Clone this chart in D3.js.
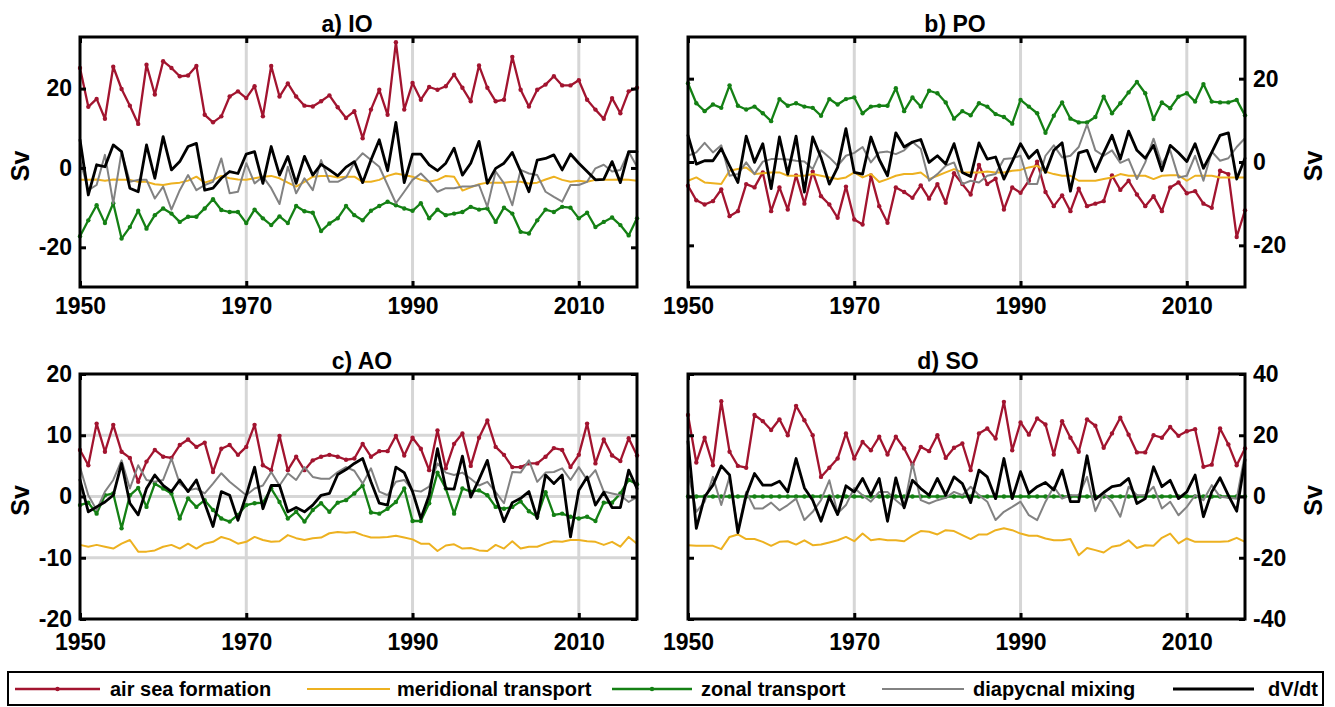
<!DOCTYPE html>
<meta charset="utf-8">
<head>
    <title>Volume budget by basin</title>
    <script src="https://cdn.jsdelivr.net/npm/d3@7"></script>
</head>

<style>
    body { margin: 0; background: #fff; }
    text { font-family: "Liberation Sans", Arial, sans-serif; font-weight: bold; fill: #000; }
    .frame { fill: none; stroke: #000; stroke-width: 3px; }
    .grid { stroke: #d6d6d6; stroke-width: 3px; }
    .series { fill: none; stroke-linejoin: round; stroke-linecap: round; }
    .tick line { stroke: #000; stroke-width: 3px; }
</style>

<svg></svg>

<script>
    var years = [1950, 1951, 1952, 1953, 1954, 1955, 1956, 1957, 1958, 1959,
        1960, 1961, 1962, 1963, 1964, 1965, 1966, 1967, 1968, 1969,
        1970, 1971, 1972, 1973, 1974, 1975, 1976, 1977, 1978, 1979,
        1980, 1981, 1982, 1983, 1984, 1985, 1986, 1987, 1988, 1989,
        1990, 1991, 1992, 1993, 1994, 1995, 1996, 1997, 1998, 1999,
        2000, 2001, 2002, 2003, 2004, 2005, 2006, 2007, 2008, 2009,
        2010, 2011, 2012, 2013, 2014, 2015, 2016, 2017];
    var xTickYears = [1950, 1970, 1990, 2010];
    var gridYears = [1970, 1990, 2010];

    var seriesNames = ['air sea formation', 'meridional transport', 'zonal transport', 'diapycnal mixing', 'dV/dt'];

    // a) Indian Ocean
    var ioAir = [25.2, 15.4, 17.4, 12.4, 25.5, 19.9, 15.7, 11.1, 26, 18.5,
        26.9, 25.2, 23.1, 23.3, 25.7, 13.4, 11.5, 13, 18, 19.3,
        17.6, 20.6, 13, 25.7, 18, 21.3, 18, 15.7, 15.5, 16.8,
        18.3, 15.3, 12.6, 14.3, 7.5, 14.7, 19.7, 13.4, 31.7, 14.7,
        21.4, 17.2, 20.4, 19.7, 20.6, 23.5, 20.2, 16.8, 25.8, 20.2,
        16.8, 17.2, 28, 19.7, 15.5, 19.7, 21, 23.1, 20.8, 20.8,
        22.1, 17.2, 14.7, 12.4, 17.6, 13.8, 19.3, 20.2];
    var ioMer = [-3.0, -3.0, -2.9, -3.2, -2.9, -3.0, -3.0, -3.5, -3.5, -4.1,
        -4.3, -3.9, -3.7, -3.2, -2.2, -3.7, -3.0, -2.0, -2.6, -2.9,
        -3.0, -2.6, -2.2, -2.0, -2.6, -3.7, -4.7, -3.5, -2.2, -2.0,
        -2.0, -2.4, -2.2, -2.2, -3.5, -3.5, -3.0, -2.0, -1.4, -1.8,
        -2.2, -3.0, -3.5, -3.0, -2.0, -2.2, -5.7, -4.9, -4.1, -3.7,
        -3.7, -3.7, -3.5, -3.5, -3.9, -3.7, -2.9, -2.2, -3.0, -3.5,
        -3.2, -3.5, -3.0, -3.0, -3.0, -2.9, -3.0, -3.2];
    var ioZon = [-17.2, -13.2, -9.4, -13.9, -8.9, -17.8, -14.9, -10.8, -15.3, -11.9,
        -10.2, -11.5, -13.6, -12.3, -12.3, -10.2, -7.9, -10.6, -11.1, -11.1,
        -13.9, -10.5, -12.7, -14.4, -12.2, -13.9, -9.6, -10.9, -11.3, -15.9,
        -14, -12.7, -9.6, -11.9, -13.2, -10.8, -9.6, -8.5, -9.4, -10.2,
        -10.8, -8.9, -12.7, -10.5, -11.9, -11.5, -11.1, -9.8, -10.5, -10.2,
        -13.6, -10, -11.5, -16.1, -16.5, -13.2, -10.5, -11.1, -9.8, -10,
        -12.7, -11.3, -14.9, -13.6, -12.5, -14.4, -17, -12.7];
    var ioDia = [2, -5.6, -4.3, 3.3, -8.9, 4.1, -3.5, -3, -3, -7.7,
        -4.7, -10.5, -5.6, -1.8, -5.6, -4.3, -3.5, 2.4, -6.4, -6,
        1.2, -3.9, -2.2, -5.1, -9.1, 0.3, -6.4, -2.6, -5.6, 2,
        -3.5, -3.5, -2.4, 1.4, 3.7, 2, 0.3, -4.3, -8.9, -6,
        -3, -1.4, -3.5, -6, -5.1, -5.1, -4.7, -4.7, -4.3, -9.8,
        -0.9, -3.9, -9.4, -0.5, -1.4, -1.8, -6, -7.3, -8.5, -4.3,
        -4.3, -3.5, -0.1, 0.8, -0.9, -0.5, 4.1, 0.3];
    var ioDvdt = [7.1, -6.8, 0.8, 0.3, 5.8, 4.1, -5.1, -6, 5.8, -2.6,
        7.9, -0.5, 1.6, 5.4, 6.2, -5.6, -5.1, -2.6, -0.9, -1.4,
        3.5, 4.1, -3.9, 5.4, -1.8, 2.9, -3.9, 2.9, -1.8, 0.9,
        -0.5, -2, 0.2, 1.6, -3.7, 2, 7.1, -0.7, 11.5, -3.7,
        3.5, 3.5, 0.8, -0.7, 1.2, 5, -1.8, 1.2, 6.7, -3.9,
        -0.1, 1.2, 3.9, -0.9, -6, 2, 2.4, 3.3, -0.5, 3.5,
        1.2, -0.9, -3, -2.9, 1.6, -3.7, 4.1, 4.1];

    // b) Pacific Ocean
    var poAir = [-5.7, -9.2, -10.2, -9.4, -6.6, -13, -11.8, -5.3, -6.1, -2.5,
        -11.8, -6.1, -11.4, -3.2, -10, -2.3, -8.2, -10.2, -13.4, -5.9,
        -13.8, -15, -3.2, -10.6, -14.6, -6.1, -7.2, -8.6, -5.6, -8.8,
        -5.3, -9.8, -2.7, -5.3, -7.8, -0.7, -5.3, -4, -11.4, -6.1,
        -7.4, -4.5, 0.1, -7.2, -10.6, -8, -11.8, -6.4, -10.6, -10,
        -9.4, -3.2, -6.7, -4.5, -7.8, -10.6, -8.2, -11.8, -6.1, -4.9,
        -7.5, -7, -10, -11, -2.1, -2.9, -18, -11.6];
    var poMer = [-4.5, -3.7, -4.9, -5.1, -5.3, -2.1, -1.7, -1.3, -2.9, -2.7,
        -2.5, -2.5, -3.3, -3.3, -3.3, -2.9, -3.3, -3.7, -4.1, -3.7,
        -2.5, -3.7, -2.9, -4.8, -4.1, -3.3, -2.9, -2.9, -2.5, -4.1,
        -3.3, -2.5, -1.7, -2.5, -2.5, -2.5, -2.3, -2.5, -2.5, -2.1,
        -1.9, -1.3, -0.9, -2.3, -2.9, -3.3, -3.3, -4.5, -4.5, -4.5,
        -4.1, -3.7, -2.9, -3.3, -3.3, -3.3, -4.1, -3.3, -3.2, -3.2,
        -4.5, -3.3, -3.3, -3.3, -3.7, -3.7, -3.7, -3.7];
    var poZon = [18.9, 14.1, 12.2, 13.8, 13, 18.4, 13.5, 12.6, 13.3, 11.7,
        9.8, 15.1, 13.5, 14.1, 13.3, 13, 11.1, 15.1, 13.8, 15.1,
        15.5, 11.7, 13.3, 13.5, 13.5, 17.7, 12.2, 15.5, 13.3, 17.1,
        16.5, 14.3, 10.4, 12.2, 11.2, 14.1, 13.3, 11.5, 10.8, 9.2,
        14.9, 13.3, 11.7, 7, 11.1, 14.3, 10.4, 9.5, 9.5, 10.8,
        15.7, 11.7, 14.1, 16.7, 19.2, 16.5, 10.3, 14.3, 12.9, 15.7,
        16.5, 14.5, 18.7, 14.5, 14.3, 14.3, 14.9, 11.2];
    var poDia = [1.5, 2.3, 4.6, 2.3, 4, -3.3, -2.9, -0.1, -2.9, 0.1,
        0.7, 0.7, 0.6, 0.3, 0.1, -1.7, 2.8, 1.1, -0.9, 1.5,
        2.2, 3.6, -0.1, 2.3, 2.5, 1.9, 2.8, 4.8, 3.2, -4.5,
        -2.9, -0.9, -0.1, -5.3, -4.5, -4.9, -3.3, -2.9, 0.7, 0.9,
        1.5, -5.3, -5.3, 1.5, 4, 1.1, 1.5, 3.6, 9, 2.8,
        1.5, 2.8, -0.2, 0.7, -4.1, -0.1, 5.6, -0.5, 2.8, -3.7,
        -3.3, 1.5, -4.5, 2.5, 0.3, 0.9, 3.6, 5.7];
    var poDvdt = [6.4, -0.5, 0.3, 0.3, 3.2, -0.9, -4.9, 6.2, -0.1, 4.4,
        -6.4, 6, -2.9, 6.2, -7.2, 6, 1.1, -5.3, -1.3, 8,
        -2.5, -2.9, 6, 0.6, -3.3, 7, 3.6, 4.8, 5.4, -0.1,
        1.5, -0.5, 4.4, -2.5, -3.5, 4.6, 0.7, 1.2, -4.1, 0.1,
        4.4, 0.9, 2.8, -2.5, 2.8, 4.6, -7, 2.2, 2.8, -2.3,
        2.2, 6.4, 0.7, 7.4, 2.8, 0.9, 4, -2.1, 4, 2.2,
        0.1, 4.4, -1.5, 2.3, 6.4, 7, -4.1, 0.9];

    // c) Atlantic Ocean
    var aoAir = [7.6, 5.1, 11.9, 7.3, 11.7, 7.3, 6.3, 2.4, 5.7, 7.6,
        6.5, 6.3, 8.4, 9.3, 8.1, 8.8, 4, 7.8, 8.4, 6.8,
        8.1, 11.7, 5.1, 4.3, 9.9, 4.3, 6.5, 4.3, 5.9, 6.5,
        6.8, 6.5, 6, 6.2, 8.6, 6.5, 7.4, 7.4, 9.9, 6.7,
        9.6, 7.8, 4.3, 10.8, 4.6, 8.6, 10.3, 5, 9.6, 12.4,
        8.1, 6.8, 4.8, 4.8, 5.4, 5.4, 6.5, 7.9, 7.6, 4.8,
        6.8, 11.9, 5.4, 9.3, 6.7, 5.8, 9.5, 6.7];
    var aoMer = [-7.9, -8.2, -7.9, -8.2, -8.5, -7.7, -7.1, -9, -9, -8.8,
        -8.2, -7.9, -8.5, -7.7, -8.5, -7.7, -7.4, -6.6, -7, -7.7,
        -7.4, -6.6, -7.1, -7.4, -7.3, -6.3, -6.8, -7.1, -6.8, -6.7,
        -6, -5.8, -5.9, -5.8, -6.3, -6.7, -6.7, -6.6, -6.4, -6.7,
        -7, -7.7, -7.7, -8.9, -8, -7.8, -8.5, -8.4, -8.8, -8.9,
        -7.9, -8.5, -7.3, -8.5, -8.2, -8.2, -7.7, -7.3, -7.4, -7.1,
        -7.1, -7.3, -7.4, -7.9, -7.4, -8.2, -6.6, -7.7];
    var aoZon = [-1.4, -1, -2.8, 0.2, 0.5, -5.2, 0.2, 1.4, -1.7, 2.1,
        1.3, 0.5, -3.6, -0.3, -1.7, -0.6, -2.2, -3.6, -4.1, -3,
        -1.4, -1.1, -1, 1.3, -0.9, -3.6, -2.5, -4.1, -2.2, -1.1,
        -2.5, -1, -0.6, 0.5, 1.8, -2.6, -2.8, -2, -0.9, 1.3,
        -4, -4, -1.1, 3.9, 1.3, -2.8, 1.3, 0.8, 1, 0.2,
        -1.7, -2, -1.7, -0.8, -2.4, -3.3, 0.7, -3, -2.8, -3.3,
        -3.6, -3.3, -4, -1, -1, 0.5, 2.7, 2];
    var aoDia = [4.8, 0.2, -2.2, 0.8, 2.7, 5.9, 1.3, 5.1, 2.7, 2.4,
        2.7, 6.2, 2.1, 1, 1.3, 0.5, 2.1, 3.8, 2.4, 1.3,
        0.2, 1.3, 1.8, 4, 1.8, 3.8, 2.7, 4.8, 3.2, 2.9,
        2.9, 4, 4.8, 4.2, 2.1, 4.6, 0.8, 0.2, 2.4, 2.7,
        1, 0.8, 1.6, 5.4, 3.9, 3.5, 3.9, 2.9, 1.8, 2.4,
        0.7, -1.1, 4, 3.9, 5.9, 2.4, 3.9, 4, 4.6, 2.7,
        4.8, 2.7, 4.3, 0.8, 0.5, 0.2, -0.9, -0.1];
    var aoDvdt = [2.7, -2.5, -1.7, -0.9, 0.2, 5.4, -1.1, -3, 1.3, 3.5,
        1.8, 0.8, 2.7, 0.8, 2.7, -1.1, -4.9, 0.8, 0.2, -3.9,
        0.2, 4.8, -2, 1.8, 1.8, -2.5, -1.8, -2.5, -1.4, 0.2,
        0.5, 3.6, 4.4, 5.4, 6.2, 2.4, -1.1, -1.4, 4.8, 3.9,
        0.8, -3.6, 0.2, 7.8, 1.3, 1.2, 6.6, -0.1, 2.8, 5.9,
        -0.1, -4.1, -1, -0.3, 0.8, -3.6, 3.5, 2.1, 3.5, -6.6,
        1, 3.2, -1.4, 0.7, -1.8, -1.8, 4.3, 1.3];

    // d) Southern Ocean
    var soAir = [26.6, 11.1, 19.2, 10.2, 31.1, 14.6, 10, 9.4, 26.6, 24.6,
        21.7, 25.2, 20, 29.6, 24.9, 20, 6.4, 9.4, 12.4, 20.6,
        12.4, 17.8, 15.1, 19.5, 13.7, 19.5, 15.7, 10.4, 16.2, 14.8,
        20, 12.6, 15.9, 17.3, 8.6, 20.6, 22.2, 18.9, 30.9, 15.1,
        24.2, 20.2, 25.5, 23.5, 13.7, 24.6, 19.2, 14.6, 25.2, 23.1,
        15.9, 20.6, 25.7, 20.2, 14.4, 14.4, 20, 19.2, 22.7, 19.8,
        21.3, 22, 9.7, 10.4, 22.2, 17, 10.2, 15.7];
    var soMer = [-15.9, -16.1, -16.1, -16.1, -17.2, -13.2, -12.4, -13.9, -13.9, -14.8,
        -16.1, -14.8, -14.6, -15.7, -14.3, -15.9, -15.7, -15, -14.3, -13.2,
        -14.6, -12.1, -14.3, -13.9, -14.3, -14.3, -14.6, -12.8, -11.3, -11.5,
        -12.4, -11, -11.3, -12.6, -13.9, -12.4, -12.4, -11, -10.4, -11,
        -12.1, -12.8, -12.8, -13.7, -14.3, -14.3, -13.9, -19.2, -16.8, -17.5,
        -18.3, -16.4, -15.9, -14.3, -16.8, -15.9, -16.1, -13.5, -12.1, -15.3,
        -13.7, -14.8, -14.8, -14.8, -14.8, -14.6, -13.5, -14.8];
    var soZon = [0, 0, 0, 0, 0, 0, 0, 0, 0, 0,
        0, 0, 0, 0, 0, 0, 0, 0, 0, 0,
        0, 0, 0, 0, 0, 0, 0, 0, 0, 0,
        0, 0, 0, 0, 0, 0, 0, 0, 0, 0,
        0, 0, 0, 0, 0, 0, 0, 0, 0, 0,
        0, 0, 0, 0, 0, 0, 0, 0, 0, 0,
        0, 0, 0, 0, 0, 0, 0, 0];
    var soDia = [8.1, -5, -1.7, 6.4, -2.8, 6.4, -11, 1.5, -3.9, -3.9,
        -2, -4.5, -2.8, -0.7, -7.7, -5, -1.2, 5.3, -5.5, -2.8,
        2.8, 0.4, -1.7, 1.5, 1.5, -1.2, -3.4, 10.8, -1.2, -2.3,
        -1.2, -0.4, 1.5, 0.4, 3.2, 0.4, -1.7, -7.7, -5, -3.4,
        -1.7, -6.1, -7.7, -1.7, 3.2, -0.7, 0.4, 0.4, 6.4, -4.8,
        1, -1.7, -6.6, 3.2, 0.4, 0.4, 3.2, -3.9, -1.7, -6.1,
        -3.4, 0.4, -1.2, 3.7, -0.1, -0.4, -0.7, 14];
    var soDvdt = [18, -10.4, -0.1, 3.7, 10, 7, -11.8, 0.4, 7.5, 3.7,
        3.7, 5, 1.5, 12.4, 2.8, -1.2, -8.1, -0.1, -5.9, 3.5,
        1.5, 5.9, 0.4, 5.9, -8.1, 6.1, -3.7, 5.3, 2.6, 0.4,
        5.9, 0.4, 6.4, 4.2, -2, 8.6, 6.4, -0.7, 12.4, -0.7,
        8.1, 1, 3.2, 4.6, 2.1, 8.6, -1.7, -1.7, 13.3, -0.9,
        1.3, 3.2, 3.7, 5.9, -2.3, -0.7, 9.7, 3.2, 5.3, -0.7,
        1.5, 7, -6.6, 1.5, 6.1, 0.4, -4.8, 12];

    // styles, one per series
    var seriesColors = ['#a2142f', '#edb120', '#148014', '#828282', '#000000'];
    var seriesWidths = [2.3, 2, 2.3, 2, 2.8];
    var seriesDots = [true, false, true, false, false];

    var panels = [
        {title: 'a) IO', titleX: 347, x0: 80, x1: 637, y0: 37, y1: 287, dom: [-30, 33],
            ticks: [-20, 0, 20], side: 'left', hgrid: [], xPad: 11,
            data: [ioAir, ioMer, ioZon, ioDia, ioDvdt]},
        {title: 'b) PO', titleX: 955, x0: 688, x1: 1245, y0: 37, y1: 287, dom: [-30, 30],
            ticks: [-20, 0, 20], side: 'right', hgrid: [], xPad: 11,
            data: [poAir, poMer, poZon, poDia, poDvdt]},
        {title: 'c) AO', titleX: 362, x0: 80, x1: 637, y0: 374, y1: 619, dom: [-20, 20],
            ticks: [-20, -10, 0, 10, 20], side: 'left', hgrid: [-10, 0, 10], xPad: 15,
            data: [aoAir, aoMer, aoZon, aoDia, aoDvdt]},
        {title: 'd) SO', titleX: 948, x0: 688, x1: 1245, y0: 374, y1: 619, dom: [-40, 40],
            ticks: [-40, -20, 0, 20, 40], side: 'right', hgrid: [], xPad: 15,
            data: [soAir, soMer, soZon, soDia, soDvdt]}
    ];

    var svg = d3.select('svg').attr('width', 1335).attr('height', 707);

    function styleAxis(sel) {
        sel.attr('font-family', null).attr('font-size', null);
        sel.select('.domain').remove();
        sel.selectAll('text').style('font-size', '23px');
    }

    function drawPanel(p) {
        var x = d3.scaleLinear().domain([1950, 2017]).range([p.x0, p.x1]);
        var y = d3.scaleLinear().domain(p.dom).range([p.y1, p.y0]);
        var g = svg.append('g');

        g.selectAll('.vgrid').data(gridYears).enter().append('line')
            .attr('class', 'grid')
            .attr('x1', function (d) { return x(d); }).attr('x2', function (d) { return x(d); })
            .attr('y1', p.y0).attr('y2', p.y1);
        g.selectAll('.hgrid').data(p.hgrid).enter().append('line')
            .attr('class', 'grid')
            .attr('x1', p.x0).attr('x2', p.x1)
            .attr('y1', function (d) { return y(d); }).attr('y2', function (d) { return y(d); });

        var line = d3.line()
            .x(function (d, i) { return x(years[i]); })
            .y(function (d) { return y(d); });

        p.data.forEach(function (vals, k) {
            g.append('path').attr('class', 'series')
                .attr('d', line(vals))
                .attr('stroke', seriesColors[k])
                .attr('stroke-width', seriesWidths[k]);
            if (seriesDots[k]) {
                g.selectAll('.dot' + k).data(vals).enter().append('circle')
                    .attr('cx', function (d, i) { return x(years[i]); })
                    .attr('cy', function (d) { return y(d); })
                    .attr('r', 2.2)
                    .attr('fill', seriesColors[k]);
            }
        });

        // box with ticks on all four sides
        var fmt = function (d) { return String(d); };
        g.append('g').attr('transform', 'translate(0,' + p.y1 + ')')
            .call(d3.axisBottom(x).tickValues(xTickYears).tickFormat(d3.format('d'))
                .tickSize(-6).tickPadding(p.xPad))
            .call(styleAxis);
        g.append('g').attr('transform', 'translate(0,' + p.y0 + ')')
            .call(d3.axisTop(x).tickValues(xTickYears).tickFormat('').tickSize(-6))
            .call(styleAxis);

        var labelled = p.side === 'left' ? d3.axisLeft(y) : d3.axisRight(y);
        var mirror = p.side === 'left' ? d3.axisRight(y) : d3.axisLeft(y);
        g.append('g').attr('transform', 'translate(' + (p.side === 'left' ? p.x0 : p.x1) + ',0)')
            .call(labelled.tickValues(p.ticks).tickFormat(fmt).tickSize(-6).tickPadding(8))
            .call(styleAxis);
        g.append('g').attr('transform', 'translate(' + (p.side === 'left' ? p.x1 : p.x0) + ',0)')
            .call(mirror.tickValues(p.ticks).tickFormat('').tickSize(-6))
            .call(styleAxis);

        g.append('rect').attr('class', 'frame')
            .attr('x', p.x0).attr('y', p.y0)
            .attr('width', p.x1 - p.x0).attr('height', p.y1 - p.y0);

        g.append('text')
            .attr('x', p.titleX).attr('y', p.y0 - 5)
            .attr('text-anchor', 'middle')
            .style('font-size', '23px')
            .text(p.title);

        var lx = p.side === 'left' ? 20 : 1313;
        var ly = (p.y0 + p.y1) / 2 + 4;
        g.append('text')
            .attr('transform', 'translate(' + lx + ',' + ly + ') rotate(-90)')
            .attr('text-anchor', 'middle').attr('dy', '0.35em')
            .style('font-size', '25px')
            .text('Sv');
    }

    panels.forEach(drawPanel);

    // legend
    var legendX = [[15, 100, 110], [307, 390, 397], [612, 692, 701], [882, 964, 973], [1173, 1254, 1268]];
    var lg = svg.append('g');
    lg.append('rect').attr('x', 8).attr('y', 672).attr('width', 1315).attr('height', 33)
        .attr('fill', '#fff').attr('stroke', '#000').attr('stroke-width', 2);
    seriesNames.forEach(function (name, k) {
        var pos = legendX[k];
        lg.append('line')
            .attr('x1', pos[0]).attr('x2', pos[1]).attr('y1', 689).attr('y2', 689)
            .attr('stroke', seriesColors[k]).attr('stroke-width', seriesWidths[k]);
        if (seriesDots[k]) {
            lg.append('circle').attr('cx', (pos[0] + pos[1]) / 2).attr('cy', 689).attr('r', 2.2)
                .attr('fill', seriesColors[k]);
        }
        lg.append('text').attr('x', pos[2]).attr('y', 689).attr('dy', '0.35em')
            .style('font-size', '20px')
            .text(name);
    });
</script>
